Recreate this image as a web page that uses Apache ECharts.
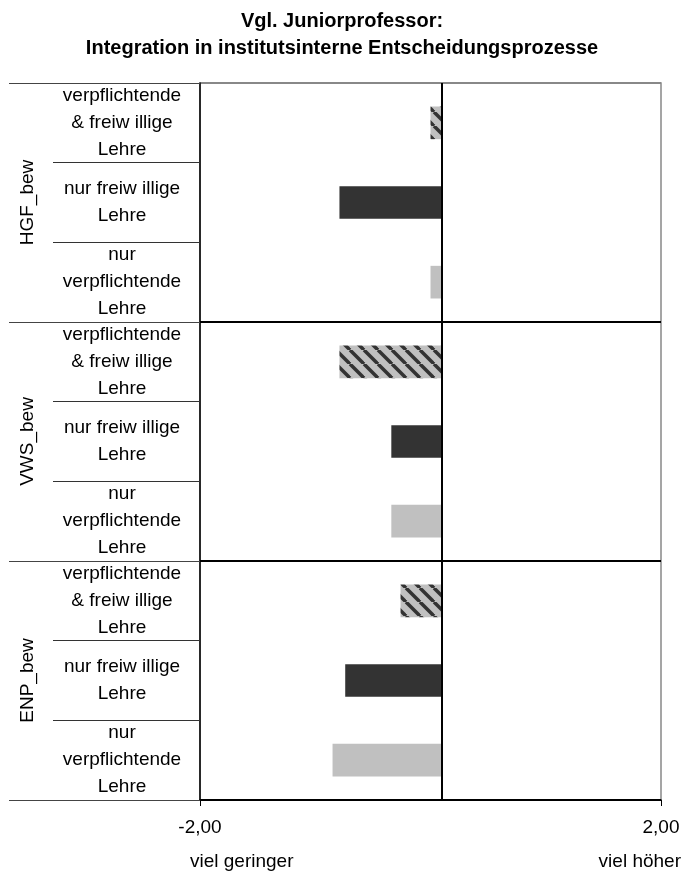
<!DOCTYPE html>
<html><head><meta charset="utf-8">
<script src="https://cdn.jsdelivr.net/npm/echarts@6/dist/echarts.min.js"></script>
<style>html,body{margin:0;padding:0;background:#fff}#c{width:684px;height:879px}</style>
</head><body><div id="c"></div>
<script>
// ---- data ----
const titleLines = ['Vgl. Juniorprofessor:', 'Integration in institutsinterne Entscheidungsprozesse'];
const groups = ['HGF_bew', 'VWS_bew', 'ENP_bew'];
const teachingTypes = ['verpflichtende\n& freiw illige\nLehre', 'nur freiw illige\nLehre', 'nur\nverpflichtende\nLehre'];
// order within each group: verpfl. & freiw., nur freiw., nur verpfl.
const HGF_bew = [0.00, -0.79, 0.00];
const VWS_bew = [-0.79, -0.34, -0.34];
const ENP_bew = [-0.26, -0.74, -0.85];
const xMin = -2, xMax = 2;
const axisCross = 0.1;          // where the category axis crosses the value axis
const xEndLabels = ['viel geringer', 'viel höher'];

// ---- build ----
const groupValues = [HGF_bew, VWS_bew, ENP_bew];
const rowKeys = [];
const barData = [];
groups.forEach((g, gi) => {
  teachingTypes.forEach((t, ti) => {
    const idx = rowKeys.length;
    rowKeys.push(g + '|' + ti);
    barData.push({ value: [groupValues[gi][ti], idx, ti] });
  });
});

const FONT = '"Liberation Sans", Arial, sans-serif';

const pc = document.createElement('canvas');
pc.width = pc.height = 14;
const pg = pc.getContext('2d');
pg.fillStyle = '#c0c0c0'; pg.fillRect(0, 0, 14, 14);
pg.strokeStyle = '#333333'; pg.lineWidth = 3.5;
for (const o of [-14, 0, 14]) { pg.beginPath(); pg.moveTo(o, 0); pg.lineTo(o + 14, 14); pg.stroke(); }
const fills = [{ image: pc, repeat: 'repeat' }, '#333333', '#c0c0c0'];

const chart = echarts.init(document.getElementById('c'), null, { renderer: 'canvas' });
chart.setOption({
  animation: false,
  backgroundColor: '#fff',
  textStyle: { fontFamily: FONT },
  title: {
    text: titleLines.join('\n'), left: 'center', top: 3,
    textStyle: { fontFamily: FONT, fontSize: 20, fontWeight: 'bold', color: '#000', lineHeight: 27 }
  },
  grid: { left: 200, right: 23, top: 83, bottom: 79, show: true, borderColor: '#888', borderWidth: 1.5, containLabel: false },
  xAxis: {
    type: 'value', min: xMin, max: xMax, interval: xMax - xMin,
    axisLine: { show: true, onZero: false, lineStyle: { color: '#000', width: 1.5 } },
    axisTick: { show: true, length: 6, lineStyle: { color: '#000' } },
    splitLine: { show: false },
    axisLabel: { formatter: v => v.toFixed(2).replace('.', ','), margin: 18, fontSize: 19, color: '#000', fontFamily: FONT }
  },
  yAxis: [
    {
      type: 'category', data: rowKeys, inverse: true, position: 'left',
      axisLine: { show: true, onZero: false, lineStyle: { color: '#000', width: 1.5 } },
      axisTick: { show: true, interval: 0, length: 147, lineStyle: { color: '#333', width: 1 } },
      axisLabel: {
        interval: 0, formatter: v => teachingTypes[+v.split('|')[1]],
        align: 'center', margin: 78, fontSize: 19, lineHeight: 27, color: '#000', fontFamily: FONT
      },
      splitLine: { show: false }
    },
    {
      type: 'category', data: groups, inverse: true, position: 'left',
      axisLine: { show: false, onZero: false },
      axisTick: { show: true, interval: 0, length: 191, lineStyle: { color: '#444', width: 1 } },
      axisLabel: { interval: 0, rotate: 90, margin: 163, fontSize: 19, color: '#000', fontFamily: FONT },
      splitLine: { show: true, interval: 0, lineStyle: { color: ['#888', '#000', '#000', '#000'], width: 2 } }
    }
  ],
  graphic: [
    { type: 'text', left: 190, top: 852, style: { text: xEndLabels[0], font: '19px ' + FONT, fill: '#000' } },
    { type: 'text', right: 3, top: 852, style: { text: xEndLabels[1], font: '19px ' + FONT, fill: '#000' } }
  ],
  series: [{
    type: 'custom',
    xAxisIndex: 0, yAxisIndex: 0,
    encode: { x: 0, y: 1 },
    data: barData,
    renderItem: (params, api) => {
      const v = api.value(0), cat = api.value(1), ti = api.value(2);
      const a = api.coord([axisCross, cat]);
      const b = api.coord([v, cat]);
      const h = api.size([0, 1])[1] * 0.41;
      const x0 = Math.min(a[0], b[0]);
      return {
        type: 'rect',
        shape: { x: x0, y: a[1] - h / 2, width: Math.abs(a[0] - b[0]), height: h },
        style: { fill: fills[ti] }
      };
    },
    markLine: {
      silent: true, symbol: 'none', label: { show: false },
      lineStyle: { color: '#000', width: 2, type: 'solid' },
      data: [{ xAxis: axisCross }]
    },
    z: 3
  }]
});
</script>
</body></html>
